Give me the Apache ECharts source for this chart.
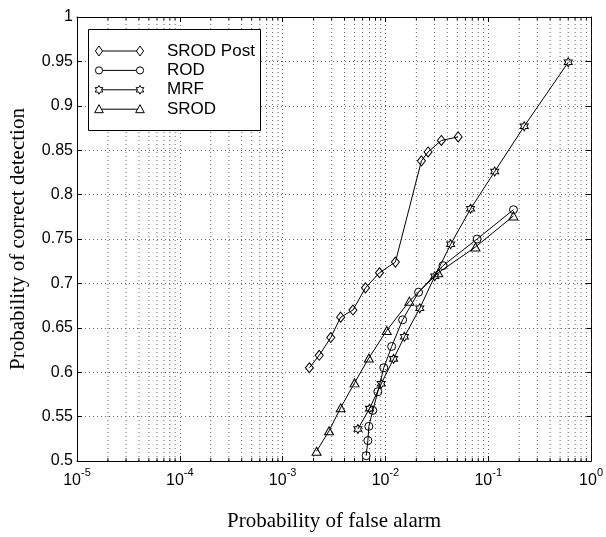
<!DOCTYPE html>
<html>
<head>
<meta charset="utf-8">
<script src="https://cdn.jsdelivr.net/npm/echarts@6/dist/echarts.min.js"></script>
<style>
  html, body { margin: 0; padding: 0; background: #fff; }
  #chart { width: 606px; height: 537px; }
</style>
</head>
<body>
<div id="chart"></div>
<script>
// ROC curves: probability of correct detection vs probability of false alarm
const seriesNames = ['SROD Post', 'ROD', 'MRF', 'SROD'];

const srodPostPfa = [0.00182, 0.00227, 0.00294, 0.00367, 0.00483, 0.0064, 0.00875, 0.0125, 0.0224, 0.026, 0.035, 0.051];
const srodPostPd  = [0.605, 0.619, 0.639, 0.662, 0.670, 0.695, 0.712, 0.724, 0.838, 0.848, 0.861, 0.865];

const rodPfa = [0.0065, 0.00675, 0.0069, 0.00754, 0.00843, 0.00964, 0.0115, 0.0147, 0.021, 0.0363, 0.078, 0.176];
const rodPd  = [0.506, 0.523, 0.539, 0.557, 0.578, 0.605, 0.629, 0.659, 0.690, 0.720, 0.750, 0.783];

const mrfPfa = [0.0054, 0.0070, 0.0091, 0.0120, 0.0153, 0.0216, 0.0302, 0.0431, 0.0673, 0.1156, 0.224, 0.60];
const mrfPd  = [0.536, 0.559, 0.587, 0.615, 0.640, 0.672, 0.708, 0.744, 0.784, 0.826, 0.877, 0.949];

const srodPfa = [0.00214, 0.00283, 0.00367, 0.00501, 0.0069, 0.0103, 0.0171, 0.0327, 0.0752, 0.176];
const srodPd  = [0.511, 0.534, 0.560, 0.588, 0.616, 0.647, 0.680, 0.712, 0.741, 0.776];

const xDecades = [1e-5, 1e-4, 1e-3, 1e-2, 1e-1, 1];
const yMin = 0.5, yMax = 1, yStep = 0.05;

// minor log positions 2..9 within each decade
const xMinor = [];
xDecades.slice(0, -1).forEach(d => { for (let k = 2; k <= 9; k++) xMinor.push(k * d); });

const zip = (xs, ys) => xs.map((x, i) => [x, ys[i]]);

const HEXAGRAM = 'path://M0,-1L0.2887,-0.5L0.866,-0.5L0.5774,0L0.866,0.5L0.2887,0.5L0,1L-0.2887,0.5L-0.866,0.5L-0.5774,0L-0.866,-0.5L-0.2887,-0.5Z';

const markerStyle = { color: 'rgba(255,255,255,0)', borderColor: '#000', borderWidth: 1 };
const sans = 'Arial, "Liberation Sans", Helvetica, sans-serif';
const serif = '"Times New Roman", "Liberation Serif", Times, serif';
const gridDots = { color: '#666', width: 1, type: [1, 3] };

function curve(name, data, symbol, size) {
  return {
    name, type: 'line', data, symbol, symbolSize: size,
    showSymbol: true, animation: false, z: 5,
    lineStyle: { color: '#000', width: 1 },
    itemStyle: markerStyle,
    emphasis: { disabled: true }
  };
}

// legend glyphs drawn as plain shapes
function glyph(kind, cx, cy) {
  const style = { fill: '#fff', stroke: '#000', lineWidth: 1 };
  if (kind === 'circle') return { type: 'circle', shape: { cx, cy, r: 3.6 }, style, z: 102 };
  let pts;
  if (kind === 'diamond') pts = [[cx, cy - 5], [cx + 3.6, cy], [cx, cy + 5], [cx - 3.6, cy]];
  else if (kind === 'triangle') pts = [[cx, cy - 4.5], [cx + 4.3, cy + 3.5], [cx - 4.3, cy + 3.5]];
  else {
    const r = 4.4, ri = r / Math.sqrt(3);
    pts = [];
    for (let i = 0; i < 12; i++) {
      const a = -Math.PI / 2 + i * Math.PI / 6;
      const rr = i % 2 === 0 ? r : ri;
      pts.push([cx + rr * Math.cos(a), cy + rr * Math.sin(a)]);
    }
  }
  return { type: 'polygon', shape: { points: pts }, style, z: 102 };
}

const legendKinds = ['diamond', 'circle', 'hexagram', 'triangle'];
const legendBox = { x: 88, y: 29, w: 172, h: 101 };
const legendGraphics = [{
  type: 'rect', shape: { x: legendBox.x + 0.5, y: legendBox.y + 0.5, width: legendBox.w, height: legendBox.h },
  style: { fill: '#fff', stroke: '#000', lineWidth: 1 }, z: 100
}];
seriesNames.forEach((name, i) => {
  const cy = 51 + i * 19.4;
  legendGraphics.push({ type: 'line', shape: { x1: 99, y1: cy, x2: 140, y2: cy }, style: { stroke: '#000', lineWidth: 1 }, z: 101 });
  legendGraphics.push(glyph(legendKinds[i], 99, cy));
  legendGraphics.push(glyph(legendKinds[i], 140, cy));
  legendGraphics.push({
    type: 'text', x: 167, y: cy, z: 102,
    style: { text: name, font: '17px ' + sans, fill: '#000', textVerticalAlign: 'middle' }
  });
});

const expLabel = v => {
  const e = Math.round(Math.log10(v));
  return '{b|10}{s|' + (e === 0 ? '0' : '-' + (-e)) + '}';
};

const chart = echarts.init(document.getElementById('chart'), null, { renderer: 'canvas' });
chart.setOption({
  backgroundColor: '#fff',
  animation: false,
  grid: { left: 75.5, right: 13, top: 17, bottom: 68, containLabel: false },
  xAxis: [{
    type: 'log', logBase: 10, min: xDecades[0], max: xDecades[xDecades.length - 1], splitNumber: 5,
    name: 'Probability of false alarm', nameLocation: 'middle', nameGap: 50,
    nameTextStyle: { fontFamily: serif, fontSize: 21, color: '#000' },
    axisLine: { show: true, lineStyle: { color: '#000', width: 1 } },
    axisTick: { show: true, inside: true, length: 5, lineStyle: { color: '#000' } },
    axisLabel: {
      formatter: expLabel, margin: 6, color: '#000',
      rich: {
        b: { fontFamily: sans, fontSize: 16, color: '#000', verticalAlign: 'bottom', lineHeight: 22 },
        s: { fontFamily: sans, fontSize: 11, color: '#000', verticalAlign: 'top', lineHeight: 22 }
      }
    },
    splitLine: { show: true, lineStyle: gridDots }
  }, {
    type: 'log', logBase: 10, min: xDecades[0], max: xDecades[xDecades.length - 1], splitNumber: 5,
    position: 'top',
    axisLine: { show: true, lineStyle: { color: '#000', width: 1 } },
    axisTick: { show: true, inside: true, length: 5, lineStyle: { color: '#000' } },
    axisLabel: { show: false }, splitLine: { show: false }
  }],
  yAxis: [{
    type: 'value', min: yMin, max: yMax, interval: yStep,
    name: 'Probability of correct detection', nameLocation: 'middle', nameGap: 48, nameRotate: 90,
    nameTextStyle: { fontFamily: serif, fontSize: 21, color: '#000' },
    axisLine: { show: true, lineStyle: { color: '#000', width: 1 } },
    axisTick: { show: true, inside: true, length: 5, lineStyle: { color: '#000' } },
    axisLabel: { fontFamily: sans, fontSize: 16, color: '#000', margin: 4, formatter: v => String(+v.toFixed(2)) },
    splitLine: { show: true, lineStyle: gridDots }
  }, {
    type: 'value', min: yMin, max: yMax, interval: yStep, position: 'right',
    axisLine: { show: true, lineStyle: { color: '#000', width: 1 } },
    axisTick: { show: true, inside: true, length: 5, lineStyle: { color: '#000' } },
    axisLabel: { show: false }, splitLine: { show: false }
  }],
  graphic: legendGraphics,
  series: [
    {
      // minor log grid lines and minor ticks at 2..9 x 10^k
      type: 'custom', xAxisIndex: 0, yAxisIndex: 0, silent: true, z: 1,
      data: xMinor.map(x => [x]),
      renderItem: (params, api) => {
        const x = api.value(0);
        const p = api.coord([x, yMin]);
        const q = api.coord([x, yMax]);
        return {
          type: 'group', children: [
            { type: 'line', shape: { x1: p[0], y1: p[1], x2: q[0], y2: q[1] }, style: { stroke: '#666', lineWidth: 1, lineDash: [1, 3] } },
            { type: 'line', shape: { x1: p[0], y1: p[1], x2: p[0], y2: p[1] - 3 }, style: { stroke: '#000', lineWidth: 1 } },
            { type: 'line', shape: { x1: q[0], y1: q[1], x2: q[0], y2: q[1] + 3 }, style: { stroke: '#000', lineWidth: 1 } }
          ]
        };
      }
    },
    curve(seriesNames[0], zip(srodPostPfa, srodPostPd), 'diamond', [8, 10]),
    curve(seriesNames[1], zip(rodPfa, rodPd), 'circle', 8),
    curve(seriesNames[2], zip(mrfPfa, mrfPd), HEXAGRAM, [8, 9]),
    curve(seriesNames[3], zip(srodPfa, srodPd), 'triangle', [9, 8])
  ]
});
</script>
</body>
</html>
